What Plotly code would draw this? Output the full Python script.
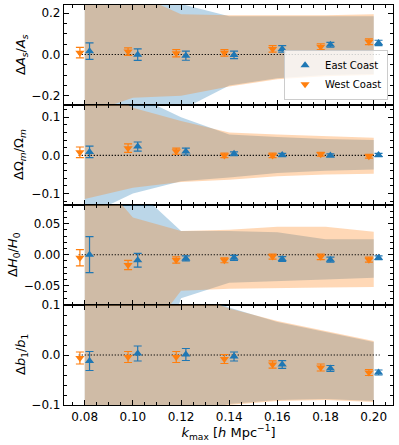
import plotly.graph_objects as go
from plotly.subplots import make_subplots

# k_max values where the forecasts were evaluated
k_max = [0.08, 0.10, 0.12, 0.14, 0.16, 0.18, 0.20]

# --- Delta A_s / A_s ---
east_As = [0.016, -0.001, -0.006, -0.002, 0.027, 0.047, 0.056]
east_As_err = [0.040, 0.028, 0.022, 0.018, 0.016, 0.012, 0.013]
west_As = [0.009, 0.014, 0.006, 0.008, 0.027, 0.038, 0.062]
west_As_err = [0.025, 0.018, 0.018, 0.016, 0.016, 0.014, 0.014]
east_As_hi = [0.50, 0.40, 0.245, 0.185, 0.185, 0.185, 0.185]
east_As_lo = [-0.50, -0.32, -0.27, -0.15, -0.115, -0.100, -0.095]
west_As_hi = [0.50, 0.30, 0.195, 0.19, 0.19, 0.19, 0.195]
west_As_lo = [-0.29, -0.21, -0.20, -0.155, -0.12, -0.105, -0.100]

# --- Delta Omega_m / Omega_m ---
east_Om = [0.009, 0.023, 0.010, 0.004, 0.001, 0.000, 0.001]
east_Om_err = [0.015, 0.012, 0.009, 0.005, 0.004, 0.004, 0.004]
west_Om = [0.008, 0.019, 0.011, 0.000, 0.000, 0.003, -0.002]
west_Om_err = [0.014, 0.011, 0.008, 0.006, 0.006, 0.005, 0.005]
east_Om_hi = [0.25, 0.16, 0.10, 0.055, 0.048, 0.043, 0.040]
east_Om_lo = [-0.16, -0.10, -0.068, -0.058, -0.046, -0.040, -0.037]
west_Om_hi = [0.20, 0.125, 0.09, 0.060, 0.055, 0.050, 0.046]
west_Om_lo = [-0.114, -0.085, -0.070, -0.064, -0.055, -0.050, -0.048]

# --- Delta H_0 / H_0 ---
east_H0 = [0.000, -0.009, -0.006, -0.005, -0.007, -0.008, -0.005]
east_H0_err = [0.029, 0.011, 0.004, 0.004, 0.004, 0.004, 0.003]
west_H0 = [-0.005, -0.0165, -0.0085, -0.009, -0.003, -0.0035, -0.008]
west_H0_err = [0.013, 0.0075, 0.005, 0.004, 0.004, 0.0045, 0.004]
east_H0_hi = [0.20, 0.11, 0.038, 0.038, 0.036, 0.025, 0.025]
east_H0_lo = [-0.30, -0.30, -0.070, -0.045, -0.042, -0.040, -0.037]
west_H0_hi = [0.15, 0.06, 0.038, 0.040, 0.045, 0.045, 0.037]
west_H0_lo = [-0.20, -0.16, -0.058, -0.055, -0.054, -0.053, -0.052]

# --- Delta b_1 / b_1 ---
east_b1 = [-0.012, 0.003, 0.001, -0.003, -0.019, -0.027, -0.035]
east_b1_err = [0.019, 0.015, 0.012, 0.009, 0.0077, 0.006, 0.005]
west_b1 = [-0.006, -0.004, -0.004, -0.008, -0.019, -0.025, -0.035]
west_b1_err = [0.012, 0.011, 0.011, 0.009, 0.0073, 0.007, 0.006]
east_b1_hi = [0.20, 0.16, 0.135, 0.095, 0.066, 0.046, 0.026]
east_b1_lo = [-0.20, -0.15, -0.12, -0.098, -0.090, -0.088, -0.092]
west_b1_hi = [0.20, 0.15, 0.13, 0.093, 0.068, 0.048, 0.028]
west_b1_lo = [-0.20, -0.15, -0.12, -0.100, -0.092, -0.090, -0.094]

BLUE = "#1f77b4"
ORANGE = "#ff7f0e"
shift = 0.002

panels = [
    (east_As, east_As_err, west_As, west_As_err, east_As_hi, east_As_lo, west_As_hi, west_As_lo),
    (east_Om, east_Om_err, west_Om, west_Om_err, east_Om_hi, east_Om_lo, west_Om_hi, west_Om_lo),
    (east_H0, east_H0_err, west_H0, west_H0_err, east_H0_hi, east_H0_lo, west_H0_hi, west_H0_lo),
    (east_b1, east_b1_err, west_b1, west_b1_err, east_b1_hi, east_b1_lo, west_b1_hi, west_b1_lo),
]
ylabels = [
    "Δ<i>A</i><sub><i>s</i></sub>/<i>A</i><sub><i>s</i></sub>",
    "ΔΩ<sub><i>m</i></sub>/Ω<sub><i>m</i></sub>",
    "Δ<i>H</i><sub>0</sub>/<i>H</i><sub>0</sub>",
    "Δ<i>b</i><sub>1</sub>/<i>b</i><sub>1</sub>",
]
ylabel_shift = [-43, -45, -51, -43]
yranges = [[-0.245, 0.24], [-0.13, 0.132], [-0.081, 0.08], [-0.1, 0.1]]
ydticks = [0.2, 0.1, 0.05, 0.1]
yminor = [0.05, 0.02, 0.01, 0.02]
yformats = [".1f", ".1f", ".2f", ".1f"]

fig = make_subplots(rows=4, cols=1, shared_xaxes=True, vertical_spacing=0)

for i, (e, ee, w, we, ehi, elo, whi, wlo) in enumerate(panels):
    row = i + 1
    # shaded bands: blue first, orange drawn over it
    fig.add_trace(go.Scatter(x=k_max + k_max[::-1], y=ehi + elo[::-1], fill="toself",
                             fillcolor="rgba(31,119,180,0.3)", line=dict(width=0),
                             mode="lines", showlegend=False, hoverinfo="skip"), row=row, col=1)
    fig.add_trace(go.Scatter(x=k_max + k_max[::-1], y=whi + wlo[::-1], fill="toself",
                             fillcolor="rgba(255,127,14,0.3)", line=dict(width=0),
                             mode="lines", showlegend=False, hoverinfo="skip"), row=row, col=1)
    # zero reference line
    fig.add_trace(go.Scatter(x=[k_max[0] - 0.0025, k_max[-1] + 0.0025], y=[0, 0], mode="lines",
                             line=dict(color="black", width=1.1, dash="1.2px,1.8px"),
                             showlegend=False, hoverinfo="skip"), row=row, col=1)
    fig.add_trace(go.Scatter(x=[k + shift for k in k_max], y=e, mode="markers", name="East Coast",
                             marker=dict(symbol="triangle-up", size=8, color=BLUE),
                             error_y=dict(type="data", array=ee, color=BLUE, thickness=1.2, width=4),
                             showlegend=(i == 0)), row=row, col=1)
    fig.add_trace(go.Scatter(x=[k - shift for k in k_max], y=w, mode="markers", name="West Coast",
                             marker=dict(symbol="triangle-down", size=8, color=ORANGE),
                             error_y=dict(type="data", array=we, color=ORANGE, thickness=1.2, width=4),
                             showlegend=(i == 0)), row=row, col=1)

    fig.update_yaxes(row=row, col=1, range=yranges[i], dtick=ydticks[i], tickformat=yformats[i],
                     minor=dict(ticks="inside", ticklen=2.5, dtick=yminor[i], tickcolor="black", tickwidth=0.8))

    # y label as a rotated annotation, centred on its panel
    dom = fig.layout["yaxis" + ("" if row == 1 else str(row))].domain
    fig.add_annotation(text=ylabels[i], xref="paper", yref="paper", x=0, y=(dom[0] + dom[1]) / 2,
                       xshift=ylabel_shift[i], textangle=-90, showarrow=False,
                       xanchor="center", yanchor="middle", font=dict(size=13))

fig.update_yaxes(showline=True, linecolor="black", linewidth=1.2, mirror="allticks",
                 ticks="inside", ticklen=4.5, tickwidth=1, tickcolor="black", automargin=False,
                 showgrid=False, zeroline=False, tickfont=dict(size=12, color="black"))
fig.update_xaxes(range=[0.0714, 0.208], dtick=0.02, tickformat=".2f",
                 showline=True, linecolor="black", linewidth=1.2, mirror="allticks",
                 ticks="inside", ticklen=4.5, tickwidth=1, tickcolor="black", automargin=False,
                 minor=dict(ticks="inside", ticklen=2.5, dtick=0.005, tickcolor="black", tickwidth=0.8),
                 showgrid=False, zeroline=False, tickfont=dict(size=12, color="black"))
fig.update_xaxes(row=4, col=1, title=dict(text="<i>k</i><sub>max</sub> [<i>h</i> Mpc<sup>−1</sup>]",
                                          standoff=2, font=dict(size=13)))

fig.update_layout(
    width=399, height=445,
    margin=dict(l=64, r=6, t=5, b=40),
    plot_bgcolor="white", paper_bgcolor="white",
    font=dict(family="DejaVu Sans", color="black"),
    legend=dict(x=0.985, y=0.763, xanchor="right", yanchor="bottom",
                bgcolor="rgba(255,255,255,0.8)", bordercolor="#cccccc", borderwidth=1,
                font=dict(size=10), itemwidth=30, tracegroupgap=0),
)

fig.write_html("out.html", config={"displayModeBar": False},
               post_script="document.body.style.margin='0px';")
